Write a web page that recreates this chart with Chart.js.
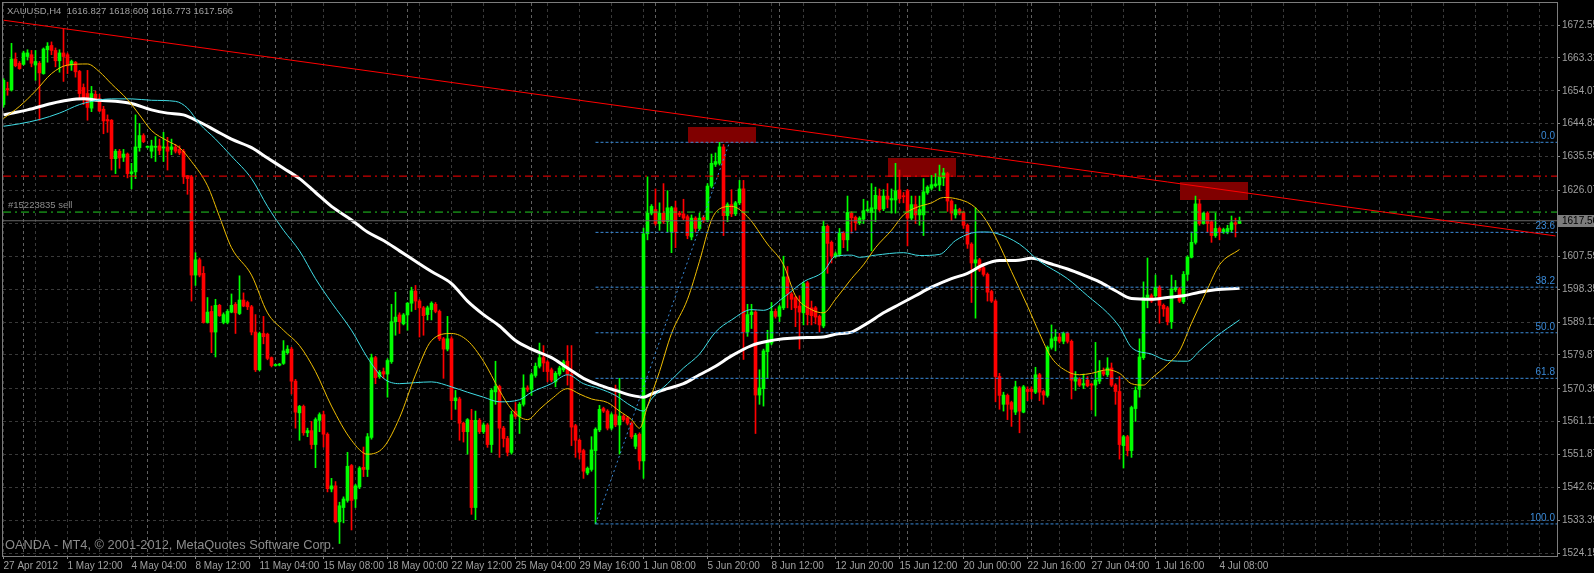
<!DOCTYPE html>
<html>
<head>
<meta charset="utf-8">
<title>XAUUSD,H4</title>
<script src="https://cdn.jsdelivr.net/npm/chart.js@4.4.1/dist/chart.umd.min.js"></script>
<style>
html, body { margin: 0; padding: 0; background: #000; overflow: hidden; }
#wrap { width: 1594px; height: 573px; }
</style>
</head>
<body>
<div id="wrap"><canvas id="chart" width="1594" height="573"></canvas></div>
<script>

// Candles, XAUUSD H4, one entry per bar (bar 0 = 27 Apr 2012)
const opens = [
1650.2,1654.7,1654.3,1663.0,1661.8,1661.5,1663.7,1664.2,1661.3,1661.8,
1658.9,1665.6,1666.8,1665.4,1662.5,1664.7,1664.2,1661.3,1662.1,1659.5,
1655.0,1653.3,1649.2,1653.1,1651.8,1648.9,1646.0,1645.8,1635.0,1637.1,
1635.4,1636.3,1630.8,1631.3,1638.1,1641.5,1638.2,1637.1,1638.2,1638.6,
1638.0,1638.3,1637.6,1638.3,1637.6,1637.1,1630.2,1629.9,1602.3,1606.6,
1602.8,1589.0,1592.1,1586.3,1593.8,1589.0,1589.0,1591.9,1594.1,1591.5,
1595.3,1594.6,1593.4,1586.3,1575.7,1585.9,1585.7,1579.1,1576.9,1577.0,
1577.5,1580.5,1581.5,1572.5,1563.6,1565.4,1558.0,1558.6,1554.7,1561.5,
1563.1,1557.6,1542.2,1543.1,1533.0,1537.0,1539.0,1548.8,1539.4,1542.8,
1548.3,1547.7,1556.7,1579.1,1573.8,1575.2,1574.5,1578.0,1589.2,1591.1,
1588.6,1591.1,1594.4,1597.8,1595.0,1593.1,1591.2,1592.6,1594.1,1592.1,
1584.4,1581.5,1584.4,1567.0,1567.5,1560.7,1558.3,1561.5,1537.0,1561.5,
1558.3,1560.2,1554.7,1569.5,1571.0,1559.3,1556.4,1552.5,1564.0,1562.6,
1566.0,1570.6,1570.2,1574.1,1576.7,1579.1,1577.9,1575.7,1572.3,1574.5,
1575.7,1578.1,1574.5,1560.0,1555.9,1553.0,1546.7,1547.7,1553.0,1558.8,
1564.8,1564.1,1559.3,1563.1,1560.2,1562.7,1562.2,1560.7,1554.2,1557.6,
1550.1,1613.9,1619.7,1620.7,1616.8,1619.7,1617.3,1614.4,1621.2,1619.7,
1619.5,1618.7,1613.0,1618.3,1615.4,1618.5,1617.8,1627.3,1633.4,1633.7,
1638.3,1619.0,1622.1,1619.5,1622.6,1626.5,1586.3,1591.2,1591.9,1568.6,
1570.4,1580.8,1583.2,1592.1,1590.7,1593.1,1601.8,1597.0,1596.0,1593.6,
1591.7,1600.1,1593.1,1593.1,1590.7,1588.0,1616.0,1611.5,1607.6,1608.1,
1614.1,1612.2,1619.7,1618.5,1617.0,1618.0,1620.4,1619.9,1620.9,1624.5,
1620.9,1624.5,1623.4,1623.4,1626.2,1624.5,1626.0,1618.3,1622.1,1619.2,
1619.2,1625.5,1626.7,1627.4,1627.6,1629.6,1630.8,1623.1,1619.2,1620.7,
1619.9,1616.3,1611.0,1605.7,1606.6,1604.4,1602.5,1597.7,1595.0,1573.8,
1566.0,1568.5,1566.5,1563.8,1570.6,1563.8,1570.2,1570.2,1569.4,1574.3,
1569.6,1568.5,1582.0,1583.9,1584.9,1583.7,1585.9,1583.7,1572.5,1573.1,
1571.4,1572.8,1571.5,1571.4,1572.5,1575.2,1574.3,1576.2,1571.4,1569.6,
1554.4,1556.9,1553.0,1564.8,1570.2,1579.1,1596.0,1596.5,1596.5,1598.9,
1593.8,1593.1,1589.2,1598.2,1598.4,1594.8,1602.5,1607.3,1611.5,1622.3,
1616.8,1619.7,1617.3,1613.4,1615.4,1614.4,1614.4,1615.1,1617.0,1616.8
]

const highs = [
1657.5,1656.5,1667.4,1664.7,1662.3,1665.2,1665.6,1665.4,1665.4,1662.3,
1666.1,1667.6,1667.8,1666.1,1665.6,1671.4,1664.7,1662.7,1662.3,1659.8,
1656.0,1659.8,1655.3,1654.0,1653.1,1649.7,1647.3,1646.0,1637.6,1637.6,
1637.6,1636.6,1633.7,1647.3,1644.9,1642.0,1638.6,1640.2,1641.2,1640.5,
1642.4,1641.0,1640.5,1639.0,1638.6,1637.6,1630.3,1630.3,1608.6,1607.1,
1604.7,1596.0,1593.6,1595.5,1594.1,1591.7,1592.6,1597.0,1594.6,1602.1,
1597.3,1595.0,1593.8,1591.2,1586.3,1590.7,1586.0,1579.3,1577.3,1577.5,
1583.9,1582.5,1582.0,1573.0,1565.7,1565.8,1559.3,1561.2,1562.2,1563.6,
1564.1,1558.0,1545.2,1544.3,1538.5,1540.0,1552.5,1549.1,1543.5,1548.5,
1554.0,1557.8,1580.1,1579.5,1575.5,1576.2,1578.8,1594.1,1597.5,1591.7,
1591.5,1594.6,1598.9,1599.4,1595.4,1593.5,1593.6,1594.8,1594.6,1592.5,
1584.8,1590.7,1585.0,1569.9,1568.0,1561.0,1562.0,1564.6,1564.1,1562.0,
1560.8,1560.6,1570.4,1578.1,1571.4,1559.8,1557.0,1564.1,1566.5,1566.5,
1574.3,1571.2,1574.8,1577.6,1583.2,1582.5,1578.3,1576.2,1575.2,1576.7,
1578.4,1582.5,1582.5,1560.4,1556.3,1553.4,1548.4,1556.9,1559.4,1565.7,
1565.2,1564.5,1563.6,1571.4,1573.3,1563.1,1562.6,1561.1,1557.8,1558.0,
1615.5,1629.9,1622.1,1626.5,1622.6,1628.0,1626.0,1621.6,1623.1,1620.2,
1623.6,1619.2,1619.2,1618.7,1619.7,1619.0,1628.0,1636.3,1636.6,1639.6,
1639.0,1622.6,1626.3,1623.0,1628.9,1628.9,1594.1,1594.1,1592.3,1575.7,
1581.5,1586.8,1594.6,1592.8,1593.8,1607.6,1604.7,1597.4,1596.4,1596.5,
1600.4,1600.5,1595.0,1593.5,1591.1,1617.6,1616.4,1611.9,1608.8,1615.4,
1614.5,1624.5,1620.1,1618.9,1618.7,1623.6,1623.1,1628.0,1627.0,1626.5,
1626.3,1628.0,1626.5,1633.7,1631.8,1625.5,1626.4,1624.5,1624.5,1624.5,
1629.4,1627.4,1630.3,1630.8,1633.2,1632.3,1631.2,1623.5,1622.1,1621.1,
1620.3,1616.7,1611.4,1621.2,1607.0,1604.8,1602.9,1598.1,1595.4,1574.7,
1569.4,1568.9,1566.9,1572.5,1571.0,1571.3,1570.9,1570.9,1576.4,1574.7,
1570.0,1582.4,1588.3,1587.0,1585.9,1586.3,1586.3,1584.1,1575.2,1573.5,
1574.5,1573.8,1571.9,1583.4,1578.3,1576.2,1579.1,1577.6,1571.8,1573.8,
1557.3,1557.3,1565.5,1570.9,1584.4,1600.4,1607.1,1597.0,1602.3,1599.3,
1594.2,1593.5,1602.3,1600.8,1598.8,1603.3,1607.7,1614.4,1624.5,1623.6,
1619.9,1620.1,1617.7,1619.7,1615.8,1615.5,1616.3,1618.9,1618.3,1618.6
]

const lows = [
1649.5,1652.8,1654.0,1660.8,1660.1,1661.3,1662.7,1660.8,1657.0,1645.8,
1658.7,1662.1,1664.2,1660.8,1659.3,1656.7,1658.9,1659.8,1657.9,1652.1,
1650.2,1645.8,1648.2,1651.1,1648.2,1642.0,1642.4,1631.8,1630.8,1632.3,
1634.2,1629.6,1626.5,1629.4,1637.1,1639.5,1638.0,1635.2,1634.2,1636.1,
1634.2,1631.8,1636.1,1636.6,1636.1,1628.0,1625.0,1595.0,1599.4,1601.8,
1588.8,1588.8,1580.5,1579.3,1590.7,1588.6,1588.6,1591.7,1585.9,1591.2,
1593.4,1592.6,1585.5,1575.2,1575.4,1583.0,1578.5,1576.5,1576.7,1576.8,
1577.2,1580.1,1568.9,1559.3,1555.9,1557.3,1556.9,1553.5,1548.2,1558.3,
1554.0,1541.4,1541.4,1532.7,1526.9,1532.7,1538.5,1530.7,1537.0,1542.3,
1545.7,1545.7,1556.2,1571.8,1573.3,1573.3,1568.0,1577.5,1585.4,1585.9,
1588.3,1586.8,1592.1,1592.6,1584.9,1585.4,1589.7,1589.7,1591.7,1583.9,
1573.3,1581.0,1561.7,1564.6,1555.9,1555.4,1552.0,1535.1,1533.6,1557.8,
1557.8,1553.9,1552.5,1566.0,1551.1,1554.0,1551.5,1552.0,1562.0,1557.8,
1565.5,1569.6,1568.5,1573.6,1576.2,1575.2,1572.3,1572.3,1570.9,1574.0,
1575.2,1571.4,1554.4,1551.1,1550.6,1545.2,1546.2,1547.2,1532.4,1558.3,
1563.7,1558.8,1558.8,1559.7,1552.0,1561.2,1560.2,1556.4,1553.5,1547.7,
1545.2,1612.2,1619.2,1616.3,1614.9,1616.8,1614.4,1608.6,1610.0,1618.7,
1617.8,1612.5,1612.2,1614.4,1614.9,1617.1,1617.3,1626.8,1632.8,1633.2,
1613.4,1617.3,1618.7,1619.0,1622.1,1578.6,1585.1,1587.3,1557.8,1566.0,
1565.5,1573.3,1582.7,1590.2,1589.2,1592.6,1593.1,1592.6,1587.8,1581.5,
1588.3,1588.3,1588.3,1588.6,1586.3,1587.5,1602.8,1605.7,1607.1,1607.6,
1610.0,1609.1,1614.1,1614.9,1616.5,1616.8,1620.0,1609.1,1617.3,1620.2,
1620.4,1621.2,1619.7,1619.7,1622.6,1622.6,1610.5,1617.8,1616.8,1616.3,
1613.4,1625.0,1626.2,1627.0,1626.0,1627.4,1620.2,1617.6,1618.3,1619.2,
1615.4,1609.8,1594.6,1590.2,1603.3,1602.0,1595.0,1594.6,1566.7,1564.6,
1564.1,1561.7,1559.8,1563.1,1558.0,1563.6,1567.0,1567.5,1569.0,1567.0,
1566.0,1568.0,1581.5,1581.0,1583.2,1583.0,1583.2,1567.5,1569.9,1571.0,
1570.4,1570.9,1564.4,1562.7,1571.8,1574.0,1573.8,1571.0,1566.0,1550.6,
1548.1,1551.5,1551.1,1561.2,1568.0,1578.6,1593.1,1594.6,1596.0,1588.8,
1590.7,1588.3,1587.3,1597.7,1594.6,1594.3,1600.8,1607.1,1611.0,1616.3,
1616.6,1614.4,1611.5,1612.9,1612.2,1614.0,1613.9,1614.4,1613.0,1616.8
]

const closes = [
1657.0,1654.3,1663.0,1661.1,1660.3,1664.7,1664.7,1661.8,1662.3,1659.1,
1665.8,1666.6,1665.4,1662.5,1664.7,1663.7,1661.1,1662.3,1659.4,1653.3,
1651.8,1649.4,1653.3,1651.6,1648.4,1645.6,1645.6,1635.0,1637.1,1635.2,
1636.3,1630.8,1631.3,1638.3,1641.5,1639.8,1638.4,1638.6,1638.4,1637.3,
1638.2,1637.1,1638.3,1637.1,1636.6,1629.9,1629.4,1602.3,1606.6,1602.3,
1589.0,1591.9,1586.3,1593.8,1590.9,1591.2,1592.1,1593.8,1591.7,1595.3,
1593.6,1593.4,1586.3,1575.7,1585.9,1585.0,1578.9,1576.9,1577.1,1577.3,
1581.0,1581.5,1572.5,1563.8,1565.4,1558.0,1558.6,1554.7,1561.7,1563.1,
1557.6,1542.3,1543.1,1533.0,1537.5,1539.4,1548.6,1539.0,1543.1,1548.1,
1547.7,1556.9,1579.1,1573.5,1575.0,1574.5,1578.3,1589.2,1590.5,1589.2,
1591.1,1594.4,1597.9,1595.0,1593.1,1590.9,1593.1,1594.4,1592.1,1584.4,
1581.5,1584.4,1567.0,1567.8,1560.7,1558.3,1561.7,1537.0,1561.5,1558.3,
1560.2,1554.7,1569.9,1571.0,1559.3,1556.4,1552.5,1563.1,1562.6,1566.0,
1570.6,1570.2,1574.3,1576.7,1579.1,1577.6,1575.2,1572.8,1574.7,1576.2,
1577.9,1574.5,1559.6,1555.9,1552.5,1547.2,1548.0,1553.2,1559.0,1564.6,
1564.1,1559.3,1563.1,1560.2,1562.7,1561.7,1560.7,1556.9,1557.3,1550.1,
1613.9,1619.7,1621.6,1616.8,1619.7,1617.3,1621.2,1621.2,1614.4,1619.2,
1618.3,1613.4,1618.3,1615.4,1618.3,1617.6,1627.3,1633.7,1634.2,1638.3,
1619.0,1622.1,1619.5,1622.6,1626.5,1586.3,1591.2,1591.9,1568.6,1570.6,
1581.0,1583.4,1592.1,1590.7,1593.4,1601.8,1597.0,1595.5,1593.1,1591.9,
1599.9,1591.2,1590.9,1590.5,1588.3,1616.0,1611.2,1607.6,1608.3,1614.1,
1612.2,1619.9,1618.4,1617.0,1618.3,1620.4,1620.7,1621.2,1624.7,1620.7,
1624.5,1623.6,1623.8,1626.0,1623.8,1624.3,1618.3,1622.1,1619.2,1620.7,
1625.7,1627.0,1627.7,1627.9,1629.9,1631.0,1623.1,1619.7,1620.7,1619.7,
1616.3,1611.0,1605.7,1606.6,1603.7,1602.5,1597.5,1595.0,1573.8,1568.5,
1568.6,1566.0,1564.6,1570.9,1564.1,1570.9,1569.6,1569.6,1574.3,1569.4,
1568.6,1582.0,1584.4,1584.9,1583.7,1585.9,1583.7,1572.8,1573.5,1571.4,
1571.8,1571.2,1571.4,1572.8,1575.4,1574.5,1576.2,1571.4,1569.6,1554.7,
1556.9,1553.0,1565.1,1569.9,1579.3,1596.0,1596.7,1595.0,1598.9,1593.8,
1592.8,1589.2,1598.4,1598.9,1595.0,1602.5,1607.3,1611.5,1622.3,1616.8,
1619.7,1616.8,1613.4,1615.4,1614.4,1615.1,1615.4,1617.0,1616.6,1617.6
]

// Moving averages at sample bars
const fastMaBars = [0,4,8,12,16,21,24,27,31,34,37,41,44,47,51,54,57,62,66,70,74,78,82,87,91,95,99,103,107,112,116,120,124,127,131,134,137,141,144,147,151,154,157,159,161,164,167,171,174,177,179,182,186,191,195,198,202,205,208,212,215,218,222,225,228,232,235,238,242,245,248,252,256,259,262,266,269,272,276,279,282,285,287,291,294,297,301,304,309]
const fastMaValues = [1646.3,1649.7,1654.0,1658.9,1661.3,1661.6,1659.4,1656.0,1651.6,1647.3,1642.9,1640.0,1638.1,1634.2,1627.4,1618.7,1610.0,1602.3,1591.7,1586.8,1582.5,1575.2,1565.5,1555.9,1552.0,1553.9,1562.2,1574.3,1583.9,1585.9,1583.9,1578.1,1569.9,1564.6,1561.7,1564.6,1567.5,1570.4,1568.9,1567.5,1566.5,1564.1,1561.7,1559.3,1565.5,1575.2,1585.9,1595.5,1606.2,1617.8,1620.9,1621.6,1618.7,1611.0,1605.2,1596.5,1592.6,1591.7,1595.5,1601.3,1605.2,1610.0,1614.9,1619.2,1621.2,1622.6,1624.1,1623.8,1622.1,1618.7,1613.0,1603.3,1593.6,1585.9,1579.1,1575.2,1574.3,1574.7,1575.7,1574.7,1571.8,1571.4,1573.3,1577.2,1581.0,1588.8,1598.4,1605.2,1609.5]

const midMaBars = [0,4,9,14,19,22,27,32,37,43,46,49,53,57,62,66,70,74,78,82,87,91,95,99,103,107,112,116,120,124,129,132,137,141,145,149,153,157,160,162,166,170,174,178,182,187,190,195,200,205,208,212,214,218,225,229,234,238,242,245,248,254,259,266,271,276,279,282,287,291,296,299,303,309]
const midMaValues = [1644.1,1644.8,1646.0,1647.8,1650.2,1651.1,1651.8,1651.8,1651.4,1651.1,1649.2,1644.8,1640.5,1635.7,1629.4,1621.6,1614.9,1609.1,1601.3,1594.6,1586.8,1579.1,1573.3,1571.8,1572.1,1572.3,1570.9,1569.4,1568.0,1566.7,1567.3,1569.4,1571.8,1574.3,1571.8,1570.4,1568.5,1565.5,1564.1,1567.5,1571.8,1576.2,1580.1,1586.3,1589.7,1592.6,1592.4,1596.0,1600.4,1603.3,1607.6,1607.9,1607.3,1607.9,1608.6,1607.8,1608.1,1612.0,1614.1,1614.4,1614.1,1611.0,1606.2,1601.3,1596.5,1591.7,1587.8,1582.0,1580.1,1578.3,1578.1,1581.0,1584.9,1589.7]

const slowMaBars = [0,6,12,16,20,24,28,32,37,41,45,49,53,57,62,66,70,74,78,82,87,91,95,99,103,107,112,116,120,124,128,132,137,141,145,149,153,157,160,162,166,170,174,178,182,187,191,195,199,205,208,212,216,220,224,228,232,237,241,245,249,253,257,262,266,270,274,278,282,287,291,295,299,303,309]
const slowMaValues = [1647.3,1648.7,1650.5,1651.4,1651.8,1651.4,1651.1,1650.5,1648.7,1647.8,1647.3,1645.3,1642.9,1640.5,1638.1,1635.2,1632.3,1629.4,1625.5,1621.6,1617.8,1614.4,1612.0,1609.1,1606.2,1603.3,1599.9,1595.0,1591.2,1588.0,1583.9,1581.5,1579.1,1576.2,1573.3,1571.4,1569.9,1568.5,1568.0,1568.9,1570.4,1571.8,1574.3,1576.7,1579.6,1582.5,1583.7,1584.4,1584.7,1584.9,1585.7,1586.3,1588.8,1591.7,1594.1,1596.5,1598.9,1601.3,1602.8,1605.2,1606.4,1606.4,1607.0,1605.4,1604.0,1602.3,1600.4,1597.9,1595.7,1595.5,1596.0,1596.5,1597.5,1598.2,1598.6]

// Axis labels
const xTickLabels = ['27 Apr 2012','1 May 12:00','4 May 04:00','8 May 12:00','11 May 04:00','15 May 08:00','18 May 00:00','22 May 12:00','25 May 04:00','29 May 16:00','1 Jun 08:00','5 Jun 20:00','8 Jun 12:00','12 Jun 20:00','15 Jun 12:00','20 Jun 00:00','22 Jun 16:00','27 Jun 04:00','1 Jul 16:00','4 Jul 08:00']
const yTickValues = [1672.55,1663.31,1654.07,1644.83,1635.59,1626.07,1616.83,1607.59,1598.35,1589.11,1579.87,1570.35,1561.11,1551.87,1542.63,1533.39,1524.15]

// Objects on the chart
const weekStarts = [5,36,68,101,132,163,194,226,257,288]
const trendBars = [0, 388]
const trendPrices = [1673.9, 1613.3]
const stopPrice = 1630.1
const orderPrice = 1620.0
const orderLabel = '#15223835 sell'
const bidPrice = 1617.56
const fibLevels = ['0.0','23.6','38.2','50.0','61.8','100.0']
const fibPrices = [1639.6,1614.3,1598.9,1586.1,1573.3,1532.4]
const fibStartBar = 148
const fibAnchorBars = [148, 181.5]
const fibAnchorPrices = [1532.4, 1639.6]
const boxBars = [[171,188],[221,238],[294,311]]
const boxPrices = [[1644.0,1639.4],[1635.2,1630.0],[1628.4,1623.3]]
const symbol = 'XAUUSD,H4'
const lastQuote = [1616.827, 1618.609, 1616.773, 1617.566]
const copyright = 'OANDA - MT4, \u00a9 2001-2012, MetaQuotes Software Corp.'


// view range
const xMin = -0.125
const xMax = 388.375
const yMin = 1523.39
const yMax = 1678.73

const FONT = 'Liberation Sans, Arial, sans-serif'
const GRID = '#393939'
const TEXT = '#a0a0a0'
const FIB = '#3a8ad8'

const gridBars = []
for (let v = 0; v <= xMax; v += 8) gridBars.push(v)

const candleColors = opens.map((o, i) => closes[i] >= o ? '#00ff00' : '#ff0000')

const pts = (xs, ys) => xs.map((x, i) => ({ x: x, y: ys[i] }))

function lineSet(data, color, width, dash, order){
  return {
    type: 'line', data: data, borderColor: color, borderWidth: width,
    borderDash: dash || [], pointRadius: 0, fill: false, order: order
  }
}

function maSet(xs, ys, color, width, order){
  const d = lineSet(pts(xs, ys), color, width, null, order)
  d.cubicInterpolationMode = 'monotone'
  return d
}


// overlays that MT4 draws around the series
const mt4 = {
  id: 'mt4',
  beforeDraw(chart){
    const ctx = chart.ctx
    ctx.save()
    ctx.fillStyle = '#000'
    ctx.fillRect(0, 0, chart.width, chart.height)
    ctx.restore()
  },
  beforeDatasetsDraw(chart){
    const { ctx, chartArea: a, scales: { x, y } } = chart
    ctx.save()
    ctx.beginPath()
    ctx.rect(a.left, a.top, a.right - a.left, a.bottom - a.top)
    ctx.clip()

    ctx.strokeStyle = '#606060'
    ctx.lineWidth = 1
    ctx.setLineDash([3, 3])
    weekStarts.forEach(b => {
      const px = Math.floor(x.getPixelForValue(b)) + 0.5
      ctx.beginPath(); ctx.moveTo(px, a.top); ctx.lineTo(px, a.bottom); ctx.stroke()
    })
    ctx.setLineDash([])

    ctx.fillStyle = '#800000'
    boxBars.forEach((b, i) => {
      const x1 = x.getPixelForValue(b[0]), x2 = x.getPixelForValue(b[1])
      const y1 = y.getPixelForValue(boxPrices[i][0]), y2 = y.getPixelForValue(boxPrices[i][1])
      ctx.fillRect(Math.round(x1), Math.round(y1), Math.round(x2 - x1), Math.round(y2 - y1))
    })
    ctx.restore()
  },
  afterDatasetsDraw(chart){
    const { ctx, chartArea: a, scales: { y } } = chart
    ctx.save()

    ctx.strokeStyle = '#7c7c7c'
    ctx.lineWidth = 1
    ctx.strokeRect(a.left - 0.5, a.top - 0.5, a.right - a.left + 1, a.bottom - a.top + 1)

    ctx.font = '10px ' + FONT
    ctx.fillStyle = FIB
    ctx.textAlign = 'right'
    ctx.textBaseline = 'bottom'
    fibLevels.forEach((t, i) => ctx.fillText(t, a.right - 2, y.getPixelForValue(fibPrices[i]) - 1))

    ctx.font = '9.5px ' + FONT
    ctx.fillStyle = '#8c8c8c'
    ctx.textAlign = 'left'
    ctx.fillText(orderLabel, 8, y.getPixelForValue(orderPrice) - 2)

    ctx.fillStyle = TEXT
    ctx.textBaseline = 'middle'
    ctx.fillText(symbol + '  ' + lastQuote.map(v => v.toFixed(3)).join(' '), 7, 11)

    ctx.font = '12.8px ' + FONT
    ctx.fillStyle = '#8c8c8c'
    ctx.fillText(copyright, 5, 545)
    ctx.restore()
  },
  afterDraw(chart){
    const { ctx, chartArea: a, scales: { y } } = chart
    const py = Math.round(y.getPixelForValue(bidPrice))
    ctx.save()
    ctx.fillStyle = '#7c7c7c'
    ctx.fillRect(a.right, py - 6, chart.width - a.right, 12)
    ctx.fillStyle = '#000'
    ctx.font = '10px ' + FONT
    ctx.textBaseline = 'middle'
    ctx.fillText(bidPrice.toFixed(2), a.right + 5, py + 0.5)
    ctx.restore()
  }
}


const datasets = [
  {
    label: 'wicks',
    data: opens.map((o, i) => ({ x: i, y: [lows[i], highs[i]] })),
    backgroundColor: candleColors, barThickness: 1, grouped: false, order: 20
  },
  {
    label: 'bodies',
    data: opens.map((o, i) => ({ x: i, y: [o, closes[i]] })),
    backgroundColor: candleColors, barThickness: 3, minBarLength: 1, grouped: false, order: 19
  },
  maSet(slowMaBars, slowMaValues, '#ffffff', 3, 12),
  maSet(midMaBars, midMaValues, '#40dde6', 1, 11),
  maSet(fastMaBars, fastMaValues, '#f0be00', 1, 10),
  lineSet(pts([xMin, xMax], [bidPrice, bidPrice]), '#6a6a6a', 1, null, 9)
]

fibPrices.forEach(p => datasets.push(lineSet(pts([fibStartBar, xMax], [p, p]), FIB, 1, [3, 2], 8)))
datasets.push(lineSet(pts(fibAnchorBars, fibAnchorPrices), FIB, 1, [2, 3], 8))
datasets.push(lineSet(pts([xMin, xMax], [orderPrice, orderPrice]), '#22cc22', 1, [8, 4, 2, 4], 7))
datasets.push(lineSet(pts([xMin, xMax], [stopPrice, stopPrice]), '#ff0000', 1, [8, 4, 2, 4], 6))
datasets.push(lineSet(pts(trendBars, trendPrices), '#ff0000', 1, null, 5))


new Chart(document.getElementById('chart'), {
  type: 'bar',
  data: { datasets: datasets },
  options: {
    responsive: false,
    animation: false,
    events: [],
    layout: { padding: { left: 3, top: 3, right: 0, bottom: 0 } },
    plugins: { legend: { display: false }, tooltip: { enabled: false } },
    scales: {
      x: {
        type: 'linear', min: xMin, max: xMax, offset: false, bounds: 'data',
        afterBuildTicks: s => { s.ticks = gridBars.map(v => ({ value: v })) },
        afterFit: s => { s.height = 17; s.paddingLeft = 0; s.paddingRight = 0 },
        grid: {
          offset: false, color: GRID, drawTicks: true, tickLength: 3,
          tickColor: c => (c.tick && c.tick.value % 16 === 0 && c.tick.value / 16 < xTickLabels.length) ? '#8a8a8a' : 'rgba(0,0,0,0)'
        },
        border: { display: false, dash: [3, 3] },
        ticks: {
          autoSkip: false, maxRotation: 0, minRotation: 0, align: 'start', padding: 1,
          color: TEXT, font: { family: FONT, size: 10 },
          callback: v => v % 16 === 0 ? (xTickLabels[v / 16] || '') : ''
        }
      },
      y: {
        type: 'linear', position: 'right', min: yMin, max: yMax, bounds: 'data',
        afterBuildTicks: s => { s.ticks = yTickValues.map(v => ({ value: v })) },
        afterFit: s => { s.width = 37; s.paddingTop = 0; s.paddingBottom = 0 },
        grid: { color: GRID, drawTicks: true, tickLength: 3, tickColor: '#8a8a8a' },
        border: { display: false, dash: [3, 3] },
        ticks: { padding: 2, color: TEXT, font: { family: FONT, size: 10 }, callback: v => v.toFixed(2) }
      }
    }
  },
  plugins: [mt4]
})
</script>
</body>
</html>
